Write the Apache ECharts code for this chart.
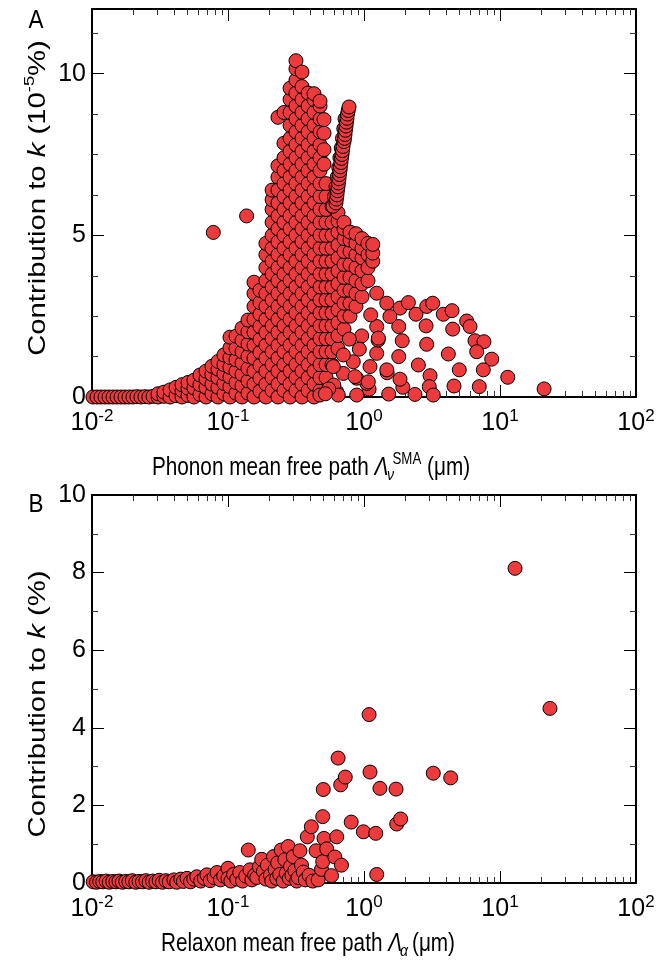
<!DOCTYPE html>
<html><head><meta charset="utf-8">
<script src="https://cdn.jsdelivr.net/npm/echarts@6/dist/echarts.min.js"></script>
<style>html,body{margin:0;padding:0;background:#fff}#c{width:659px;height:968px}</style>
</head><body><div id="c"></div>
<script>
const FONT = "'Liberation Sans', Arial, Helvetica, sans-serif";
const RED = '#EC3A3D';

// ---------- tick values ----------
const xMajorTicks = [0.01, 0.1, 1, 10, 100];
const xMinorTicks = [0.02,0.03,0.04,0.05,0.06,0.07,0.08,0.09,0.2,0.3,0.4,0.5,0.6,0.7,0.8,0.9,2,3,4,5,6,7,8,9,20,30,40,50,60,70,80,90];
const yAMajorTicks = [0, 5, 10];
const yAMinorTicks = [1.25, 2.5, 3.75, 6.25, 7.5, 8.75, 11.25];
const yBMajorTicks = [0, 2, 4, 6, 8, 10];
const yBMinorTicks = [1, 3, 5, 7, 9];

// ---------- Panel A data (x in um, y in 1e-5 %) ----------
const aBaseRow = [[0.01017,0],[0.01089,0],[0.01164,0],[0.01247,0],[0.01334,0],[0.01427,0],[0.01528,0],[0.01634,0],[0.01749,0],[0.0187,0],[0.0200,0],[0.0214,0.01],[0.0229,0],[0.0245,0.01],[0.0262,0],[0.0281,0.02]];
// dense cloud read column by column: [x, [y values]]
const aCloudCols = [
 [0.0306, [0.0, 0.1]],
 [0.0338, [0.02, 0.15]],
 [0.0375, [0.0, 0.22]],
 [0.0415, [0.04, 0.3]],
 [0.0459, [0.0, 0.2, 0.38]],
 [0.0508, [0.05, 0.27, 0.45]],
 [0.0562, [0.0, 0.28, 0.52]],
 [0.0622, [0.08, 0.38, 0.68]],
 [0.0689, [0.0, 0.3, 0.56, 0.8]],
 [0.0762, [0.1, 0.4, 0.7, 0.95]],
 [0.0844, [0.0, 0.3, 0.6, 0.86, 1.1]],
 [0.0934, [0.1, 0.42, 0.72, 1.0, 1.3]],
 [0.1034, [0.0, 0.32, 0.62, 0.92, 1.22, 1.52, 1.85]],
 [0.1145, [0.12, 0.45, 0.8, 1.15, 1.5, 1.88]],
 [0.1268, [0.0, 0.35, 0.7, 1.05, 1.4, 1.75, 2.13]],
 [0.1403, [0.12, 0.5, 0.88, 1.26, 1.64, 2.02, 2.38]],
 [0.1553, [0.0, 0.4, 0.8, 1.2, 1.6, 2.0, 2.4, 2.8, 3.2, 3.55]],
 [0.1718, [0.18, 0.58, 0.98, 1.38, 1.78, 2.18, 2.56, 2.92, 3.3]],
 [0.190, [0.0, 0.4, 0.8, 1.2, 1.6, 2.0, 2.4, 2.8, 3.2, 3.6, 4.0, 4.4, 4.75]],
 [0.211, [0.2, 0.6, 1.0, 1.4, 1.8, 2.2, 2.6, 3.0, 3.4, 3.8, 4.2, 4.6, 5.0, 5.4, 5.8, 6.1, 6.4]],
 [0.233, [0.0, 0.4, 0.8, 1.2, 1.6, 2.0, 2.4, 2.8, 3.2, 3.6, 4.0, 4.4, 4.8, 5.2, 5.6, 6.0, 6.4, 6.8, 7.15, 8.65]],
 [0.258, [0.2, 0.6, 1.0, 1.4, 1.8, 2.2, 2.6, 3.0, 3.4, 3.8, 4.2, 4.6, 5.0, 5.4, 5.8, 6.2, 6.6, 7.0, 7.4, 7.85, 8.8]],
 [0.286, [0.0, 0.4, 0.8, 1.2, 1.6, 2.0, 2.4, 2.8, 3.2, 3.6, 4.0, 4.4, 4.8, 5.2, 5.6, 6.0, 6.4, 6.8, 7.2, 7.6, 8.0, 8.4, 8.8, 9.2, 9.55]],
 [0.316, [0.2, 0.6, 1.0, 1.4, 1.8, 2.2, 2.6, 3.0, 3.4, 3.8, 4.2, 4.6, 5.0, 5.4, 5.8, 6.2, 6.6, 7.0, 7.4, 7.8, 8.2, 8.6, 9.0, 9.4, 9.8, 10.15, 10.4]],
 [0.350, [0.0, 0.4, 0.8, 1.2, 1.6, 2.0, 2.4, 2.8, 3.2, 3.6, 4.0, 4.4, 4.8, 5.2, 5.6, 6.0, 6.4, 6.8, 7.2, 7.6, 8.0, 8.4, 8.8, 9.2, 9.6, 10.05]],
 [0.388, [0.2, 0.6, 1.0, 1.4, 1.8, 2.2, 2.6, 3.0, 3.4, 3.8, 4.2, 4.6, 5.0, 5.4, 5.8, 6.2, 6.6, 7.0, 7.4, 7.8, 8.2, 8.6, 9.0, 9.4]],
 [0.429, [0.0, 0.4, 0.8, 1.2, 1.6, 2.0, 2.4, 2.8, 3.2, 3.6, 4.0, 4.4, 4.8, 5.2, 5.6, 6.0, 6.4, 6.8, 7.2, 7.6, 8.0, 8.4, 8.8, 9.2, 9.38]],
 [0.475, [0.2, 0.6, 1.0, 1.4, 1.8, 2.2, 2.6, 3.0, 3.4, 3.8, 4.2, 4.6, 5.0, 5.4, 5.8, 6.2, 6.6, 7.0, 7.4, 7.8, 8.2, 8.6, 9.0, 9.15]],
 [0.508, [7.2, 7.65, 8.16, 8.58]],
 [0.526, [0.6, 1.0, 1.4, 1.8, 2.2, 2.6, 3.0, 3.4, 3.8, 4.2, 4.6, 5.0, 5.4, 5.8, 6.2, 6.6]],
 [0.582, [1.0, 1.4, 1.8, 2.2, 2.6, 3.0, 3.4, 3.8, 4.2, 4.6, 5.0, 5.4, 5.9]],
 [0.644, [1.5, 1.9, 2.3, 2.7, 3.1, 3.5, 3.9, 4.3, 4.7, 5.1, 5.45, 5.7]],
 [0.713, [2.1, 2.5, 2.9, 3.3, 3.7, 4.1, 4.5, 4.9, 5.2, 5.4]],
 [0.789, [2.5, 2.9, 3.3, 3.7, 4.1, 4.5, 4.85, 5.1]],
 [0.873, [2.8, 3.2, 3.6, 4.0, 4.4, 4.75, 5.05]],
 [0.967, [3.1, 3.5, 3.9, 4.3, 4.6, 4.9]],
 [1.07, [3.6, 4.0, 4.4, 4.75]],
 [1.16, [4.2, 4.45, 4.72]]
];
const aSpike = [[0.592,5.9],[0.607,6.2],[0.622,6.5],[0.636,6.8],[0.652,7.1],[0.665,7.4],[0.68,7.7],[0.695,8.0],[0.71,8.3],[0.725,8.6],
 [0.622,6.0],[0.627,6.12],[0.633,6.25],[0.638,6.38],[0.644,6.5],[0.649,6.62],[0.655,6.75],[0.66,6.88],[0.666,7.0],[0.671,7.12],[0.677,7.25],[0.683,7.38],[0.689,7.5],[0.695,7.62],[0.701,7.75],[0.713,7.9],[0.719,8.0],[0.725,8.12],[0.731,8.25],[0.738,8.38],[0.744,8.5],[0.75,8.62],[0.756,8.75],[0.766,8.86],[0.776,8.97]];
const aSparse = [[0.078,5.09],[0.137,5.6],
 [1.24,3.21],[1.47,2.90],[1.84,2.75],[2.12,2.92],[2.41,2.56],[2.89,2.80],[3.20,2.90],[3.83,2.56],[4.44,2.67],[5.69,2.35],[6.02,2.18],[6.55,1.74],[7.62,1.71],[6.74,1.40],[8.69,1.17],[7.54,0.84],[11.4,0.61],[7.04,0.32],[21.1,0.25],
 [4.59,0.34],[5.02,0.84],[4.17,1.33],[4.49,2.10],[2.89,1.63],[2.86,2.20],[3.06,0.66],[3.02,0.32],[3.23,0.06],[2.37,0.08],[1.93,0.30],[1.84,0.55],[2.51,0.99],[1.80,1.25],[1.91,1.74],[1.80,2.18],[1.55,2.49],[1.48,0.75],[1.52,0.09],
 [1.107,0.94],[1.09,0.24],[1.05,0.42],[0.884,0.06],[0.884,0.58],[0.834,1.09],[1.24,1.35],[1.27,1.76],[1.24,2.18],[0.962,1.89],[0.924,1.48],[0.705,0.73],[0.705,1.30],[0.63,0.16],[0.60,0.37],
 [1.12,2.54],[1.275,1.82],[0.78,1.79],[1.47,0.84],[0.595,0.94],[0.86,0.63],[1.076,0.47],[0.474,0.06],[0.647,0.06],[0.55,0.25],[0.52,0.1]];

// ---------- Panel B data (x in um, y in %) ----------
const bPoints = [[0.0102,0.03],[0.0108,0.02],[0.0114,0.04],[0.012,0.03],[0.0127,0.05],[0.0134,0.02],[0.0142,0.04],[0.015,0.03],[0.0158,0.05],[0.0167,0.02],[0.0177,0.04],[0.0187,0.03],[0.0198,0.06],[0.021,0.02],[0.0222,0.04],[0.0235,0.03],[0.0249,0.06],[0.0263,0.02],[0.0279,0.05],[0.0295,0.03],[0.0312,0.07],[0.033,0.02],[0.035,0.06],[0.037,0.03],[0.04,0.08],[0.042,0.02],[0.045,0.1],[0.047,0.04],[0.05,0.12],[0.053,0.03],[0.056,0.1],[0.059,0.16],[0.063,0.05],[0.067,0.12],[0.07,0.21],[0.074,0.06],[0.079,0.14],[0.083,0.27],[0.088,0.08],[0.093,0.18],[0.1,0.38],[0.1,0.12],[0.105,0.05],[0.11,0.22],[0.116,0.1],[0.122,0.27],[0.128,0.05],[0.135,0.18],[0.141,0.85],[0.145,0.34],[0.15,0.08],[0.157,0.2],[0.163,0.14],[0.17,0.42],[0.177,0.61],[0.182,0.3],[0.19,0.1],[0.195,0.46],[0.205,0.2],[0.21,0.05],[0.216,0.68],[0.222,0.35],[0.228,0.12],[0.232,0.52],[0.24,0.22],[0.246,0.85],[0.255,0.05],[0.262,0.6],[0.268,0.25],[0.277,0.94],[0.282,0.12],[0.288,0.42],[0.295,0.2],[0.302,0.68],[0.31,0.32],[0.32,0.05],[0.329,0.14],[0.338,0.83],[0.347,0.46],[0.358,0.28],[0.37,0.08],[0.383,1.19],[0.395,0.2],[0.41,1.45],[0.42,0.05],[0.444,0.83],[0.46,0.08],[0.487,0.35],[0.497,1.71],[0.497,0.55],[0.502,2.41],[0.508,1.15],[0.532,0.88],[0.577,0.19],[0.611,0.67],[0.63,1.19],[0.645,3.22],[0.674,2.53],[0.683,0.46],[0.728,2.73],[0.805,1.57],[0.99,1.32],[1.09,4.34],[1.107,2.86],[1.22,1.28],[1.24,0.22],[1.31,2.44],[1.72,2.42],[1.74,1.52],[1.86,1.65],[3.23,2.83],[4.34,2.71],[12.9,8.11],[23.3,4.5]];

// ---------- build series data ----------
const aData = [];
aBaseRow.forEach(p => aData.push(p));
aCloudCols.forEach(c => c[1].forEach(y => aData.push([c[0], y])));
aSpike.forEach(p => aData.push(p));
aSparse.forEach(p => aData.push(p));

const labelRich = {
  b: {fontSize: 25, fontFamily: FONT, color: '#000', lineHeight: 30},
  s: {fontSize: 17, fontFamily: FONT, color: '#000', lineHeight: 17, verticalAlign: 'top'}
};
function logFmt(v) { return '{b|10}{s|' + Math.round(Math.log10(v)) + '}'; }

function xAxesFor(g) {
  const common = {type: 'log', logBase: 10, min: 0.01, max: 100, gridIndex: g, splitLine: {show: false}};
  const line = {show: true, onZero: false, lineStyle: {color: '#000', width: 2}};
  return [
    Object.assign({}, common, {position: 'bottom', axisLine: line,
      axisTick: {show: true, inside: true, length: 12, customValues: xMajorTicks, lineStyle: {color: '#000', width: 1}},
      axisLabel: {show: true, customValues: xMajorTicks, margin: 11, formatter: logFmt, rich: labelRich}}),
    Object.assign({}, common, {position: 'bottom', axisLine: {show: false, onZero: false},
      axisTick: {show: true, inside: true, length: 6, customValues: xMinorTicks, lineStyle: {color: '#333', width: 1}},
      axisLabel: {show: false}}),
    Object.assign({}, common, {position: 'top', axisLine: line,
      axisTick: {show: true, inside: true, length: 12, customValues: xMajorTicks, lineStyle: {color: '#000', width: 1}},
      axisLabel: {show: false}}),
    Object.assign({}, common, {position: 'top', axisLine: {show: false, onZero: false},
      axisTick: {show: true, inside: true, length: 6, customValues: xMinorTicks, lineStyle: {color: '#333', width: 1}},
      axisLabel: {show: false}})
  ];
}
function yAxesFor(g, max, major, minor) {
  const common = {type: 'value', min: 0, max: max, gridIndex: g, splitLine: {show: false}};
  const line = {show: true, onZero: false, lineStyle: {color: '#000', width: 2}};
  return [
    Object.assign({}, common, {position: 'left', axisLine: line,
      axisTick: {show: true, inside: true, length: 12, customValues: major, lineStyle: {color: '#000', width: 1}},
      axisLabel: {show: true, customValues: major, margin: 6, fontSize: 25, fontFamily: FONT, color: '#000'}}),
    Object.assign({}, common, {position: 'left', axisLine: {show: false, onZero: false},
      axisTick: {show: true, inside: true, length: 6, customValues: minor, lineStyle: {color: '#333', width: 1}},
      axisLabel: {show: false}}),
    Object.assign({}, common, {position: 'right', axisLine: line,
      axisTick: {show: true, inside: true, length: 12, customValues: major, lineStyle: {color: '#000', width: 1}},
      axisLabel: {show: false}}),
    Object.assign({}, common, {position: 'right', axisLine: {show: false, onZero: false},
      axisTick: {show: true, inside: true, length: 6, customValues: minor, lineStyle: {color: '#333', width: 1}},
      axisLabel: {show: false}})
  ];
}

function richFor(fs) {
  return {
    n: {fontSize: fs, fontFamily: FONT, fill: '#000', lineHeight: fs + 7},
    i: {fontSize: fs, fontFamily: FONT, fill: '#000', lineHeight: fs + 7, fontStyle: 'italic'},
    s: {fontSize: Math.round(fs * 0.62), fontFamily: FONT, fill: '#000', lineHeight: Math.round(fs * 0.62), verticalAlign: 'top'},
    u: {fontSize: Math.round(fs * 0.66), fontFamily: FONT, fill: '#000', lineHeight: Math.round(fs * 0.66), verticalAlign: 'bottom', fontStyle: 'italic', width: 5}
  };
}
function txt(x, y, text, fs, rot, sx, sy) {
  return {type: 'text', x: x, y: y, rotation: rot || 0, scaleX: sx || 1, scaleY: sy || 1, silent: true,
    style: {text: text, rich: richFor(fs), fontSize: fs, fontFamily: FONT, fill: '#000', align: 'center', verticalAlign: 'middle'}};
}

const chart = echarts.init(document.getElementById('c'), null, {renderer: 'canvas'});
chart.setOption({
  animation: false,
  backgroundColor: '#fff',
  grid: [
    {left: 92, top: 9, width: 544, height: 388, containLabel: false},
    {left: 92, top: 495, width: 544, height: 388, containLabel: false}
  ],
  xAxis: xAxesFor(0).concat(xAxesFor(1)),
  yAxis: yAxesFor(0, 12, yAMajorTicks, yAMinorTicks).concat(yAxesFor(1, 10, yBMajorTicks, yBMinorTicks)),
  series: [
    {type: 'scatter', xAxisIndex: 0, yAxisIndex: 0, data: aData, symbol: 'circle', symbolSize: 14,
     itemStyle: {color: RED, borderColor: '#000', borderWidth: 1, opacity: 1}, silent: true},
    {type: 'scatter', xAxisIndex: 4, yAxisIndex: 4, data: bPoints, symbol: 'circle', symbolSize: 14,
     itemStyle: {color: RED, borderColor: '#000', borderWidth: 1, opacity: 1}, silent: true}
  ],
  graphic: [
    txt(36, 21, '{n|A}', 25, 0, 0.9, 1),
    txt(36, 505, '{n|B}', 25, 0, 0.9, 1),
    txt(38, 198, '{n|Contribution to }{i|k}{n| (10}{s|-5}{n|%)}', 24, Math.PI / 2, 1.22, 1),
    txt(38, 704, '{n|Contribution to }{i|k}{n| (%)}', 24, Math.PI / 2, 1.22, 1),
    txt(311, 468, '{n|Phonon mean free path }{i|Λ}{u|ν}{s|SMA}{n| (μm)}', 25, 0, 0.83, 1),
    txt(308, 944, '{n|Relaxon mean free path }{i|Λ}{u|α}{n| (μm)}', 25, 0, 0.83, 1)
  ]
});
</script></body></html>
